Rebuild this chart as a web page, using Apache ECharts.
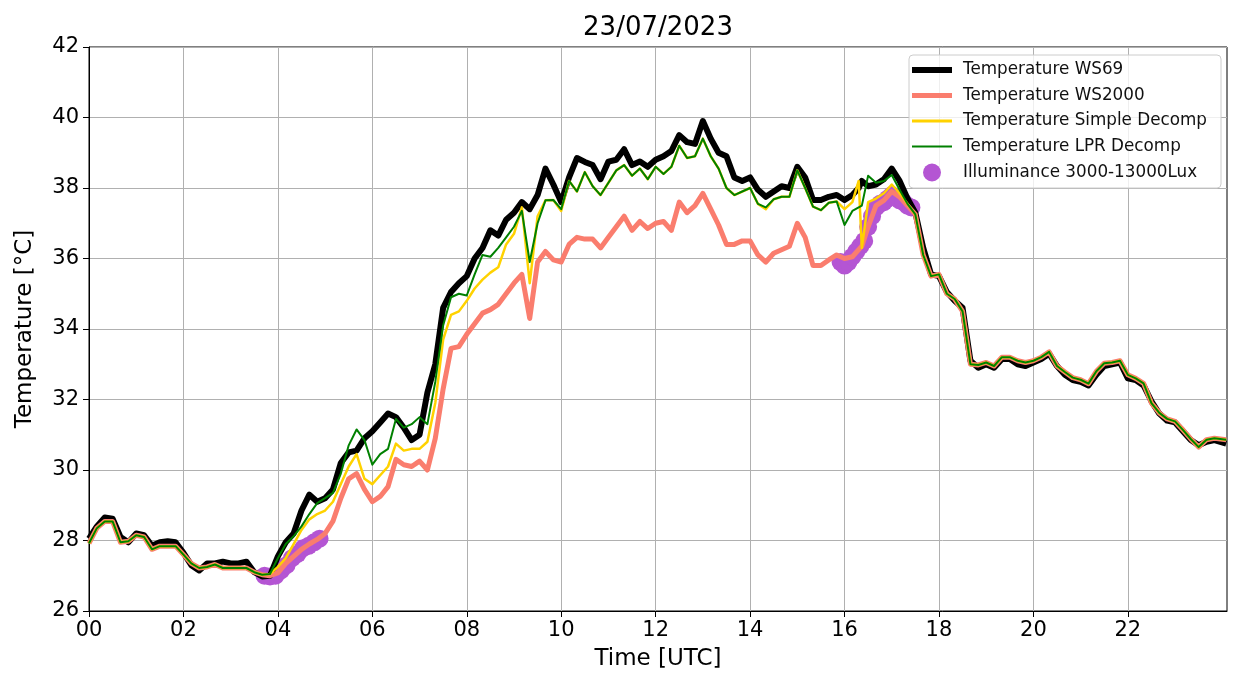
<!DOCTYPE html>
<html>
<head>
<meta charset="utf-8">
<title>23/07/2023</title>
<script src="https://cdn.jsdelivr.net/npm/echarts@6/dist/echarts.min.js"></script>
<style>
    html, body { margin: 0; padding: 0; background: #fff; }
    #chart { width: 1244px; height: 679px; }
</style>
</head>
<body>
<div id="chart"></div>
<script>
// time stamps in minutes after 00:00 UTC (10 min steps, two extra points around 16:20)
const timeMin = [
    0, 10, 20, 30, 40, 50,
    60, 70, 80, 90, 100, 110,
    120, 130, 140, 150, 160, 170,
    180, 190, 200, 210, 220, 230,
    240, 250, 260, 270, 280, 290,
    300, 310, 320, 330, 340, 350,
    360, 370, 380, 390, 400, 410,
    420, 430, 440, 450, 460, 470,
    480, 490, 500, 510, 520, 530,
    540, 550, 560, 570, 580, 590,
    600, 610, 620, 630, 640, 650,
    660, 670, 680, 690, 700, 710,
    720, 730, 740, 750, 760, 770,
    780, 790, 800, 810, 820, 830,
    840, 850, 860, 870, 880, 890,
    900, 910, 920, 930, 940, 950,
    960, 970, 978, 982, 990, 1000, 1010,
    1020, 1030, 1040, 1050, 1060, 1070,
    1080, 1090, 1100, 1110, 1120, 1130,
    1140, 1150, 1160, 1170, 1180, 1190,
    1200, 1210, 1220, 1230, 1240, 1250,
    1260, 1270, 1280, 1290, 1300, 1310,
    1320, 1330, 1340, 1350, 1360, 1370,
    1380, 1390, 1400, 1410, 1420, 1430,
    1445
];

const tempWS69 = [
    28.05, 28.4, 28.65, 28.62, 28.1, 27.95,
    28.2, 28.15, 27.85, 27.95, 27.98, 27.95,
    27.65, 27.3, 27.15, 27.35, 27.35, 27.4,
    27.35, 27.35, 27.4, 27.1, 26.98, 27.0,
    27.55, 27.95, 28.2, 28.85, 29.3, 29.1,
    29.2, 29.45, 30.2, 30.5, 30.55, 30.9,
    31.1, 31.35, 31.6, 31.5, 31.2, 30.85,
    31.0, 32.2, 33.0, 34.6, 35.05, 35.3,
    35.5, 36.0, 36.3, 36.8, 36.65, 37.1,
    37.3, 37.6, 37.4, 37.8, 38.55, 38.1,
    37.6, 38.3, 38.85, 38.74, 38.65, 38.25,
    38.75, 38.8, 39.1, 38.65, 38.75, 38.6,
    38.8, 38.9, 39.05, 39.5, 39.3, 39.25,
    39.9, 39.4, 39.0, 38.9, 38.3, 38.2,
    38.3, 37.95, 37.75, 37.9, 38.05, 38.0,
    38.6, 38.3, 37.66, 37.66, 37.75, 37.8,
    37.66, 37.8, 38.0, 38.2, 38.05, 38.1, 38.25,
    38.55, 38.2, 37.7, 37.3, 36.3, 35.55,
    35.5, 35.05, 34.8, 34.6, 33.1, 32.9,
    33.0, 32.9, 33.15, 33.15, 33.0, 32.95,
    33.05, 33.15, 33.3, 32.95, 32.7, 32.55,
    32.5, 32.4, 32.7, 32.95, 33.0, 33.05,
    32.6, 32.55, 32.4, 31.95, 31.6, 31.4,
    31.35, 31.1, 30.85, 30.7, 30.8, 30.85,
    30.75
];

const tempWS2000 = [
    27.92, 28.35, 28.54, 28.54, 27.95, 27.98,
    28.15, 28.1, 27.75, 27.84, 27.84, 27.84,
    27.6, 27.35, 27.22, 27.25, 27.32, 27.22,
    27.22, 27.22, 27.22, 27.1, 27.03, 27.0,
    27.08, 27.35, 27.55, 27.75, 27.9, 28.03,
    28.2, 28.55, 29.2, 29.75, 29.9, 29.45,
    29.1, 29.25, 29.53, 30.3, 30.15, 30.1,
    30.25, 30.0, 30.9, 32.3, 33.45, 33.5,
    33.85, 34.15, 34.45, 34.55, 34.7, 35.0,
    35.3, 35.55, 34.3, 35.9, 36.2, 35.96,
    35.9, 36.4, 36.6, 36.55, 36.55, 36.3,
    36.6, 36.9, 37.2, 36.8, 37.05, 36.85,
    37.0, 37.05, 36.8, 37.6, 37.3, 37.5,
    37.85, 37.4, 36.95, 36.4, 36.4, 36.5,
    36.5, 36.1, 35.9, 36.15, 36.25, 36.35,
    37.0, 36.6, 35.8, 35.8, 35.96, 36.1,
    36.0, 36.05, 36.25, 36.35, 36.9, 37.5, 37.65,
    37.9, 37.75, 37.5, 37.25, 36.1, 35.5,
    35.55, 35.0, 34.85, 34.5, 33.0, 32.98,
    33.05, 32.95, 33.2, 33.2, 33.1, 33.05,
    33.1, 33.2, 33.35, 32.95, 32.78, 32.62,
    32.56, 32.45, 32.8, 33.03, 33.05, 33.1,
    32.7, 32.6, 32.46, 31.9, 31.62, 31.45,
    31.38, 31.14, 30.88, 30.65, 30.86, 30.9,
    30.86
];

const tempSimple = [
    27.92, 28.35, 28.54, 28.54, 27.95, 27.98,
    28.15, 28.1, 27.75, 27.84, 27.84, 27.84,
    27.6, 27.35, 27.22, 27.25, 27.32, 27.22,
    27.22, 27.22, 27.22, 27.1, 27.03, 27.05,
    27.25, 27.5, 27.9, 28.3, 28.6, 28.75,
    28.85, 29.1, 29.6, 30.1, 30.45, 29.75,
    29.6, 29.85, 30.1, 30.75, 30.55, 30.6,
    30.6, 30.8, 31.9, 33.7, 34.4, 34.5,
    34.8, 35.15, 35.4, 35.6, 35.75, 36.4,
    36.7, 37.45, 35.3, 37.2, 37.65, 37.66,
    37.35, 38.2, 37.9, 38.45, 38.05, 37.8,
    38.15, 38.5, 38.65, 38.35, 38.55, 38.25,
    38.6, 38.4, 38.6, 39.2, 38.85, 38.9,
    39.4, 38.9, 38.55, 38.0, 37.8, 37.9,
    38.0, 37.55, 37.4, 37.68, 37.75, 37.75,
    38.5, 38.0, 37.47, 37.37, 37.58, 37.62,
    37.4, 37.6, 38.2, 36.3, 37.6, 37.7, 37.85,
    38.1, 37.85, 37.55, 37.25, 36.1, 35.5,
    35.55, 35.0, 34.85, 34.5, 33.0, 32.98,
    33.05, 32.95, 33.2, 33.2, 33.1, 33.05,
    33.1, 33.2, 33.35, 32.95, 32.78, 32.62,
    32.56, 32.45, 32.8, 33.03, 33.05, 33.1,
    32.7, 32.6, 32.46, 31.9, 31.62, 31.45,
    31.38, 31.14, 30.88, 30.65, 30.86, 30.9,
    30.86
];

const tempLPR = [
    27.92, 28.35, 28.54, 28.54, 27.95, 27.98,
    28.15, 28.1, 27.75, 27.84, 27.84, 27.84,
    27.6, 27.35, 27.22, 27.25, 27.32, 27.22,
    27.22, 27.22, 27.22, 27.1, 27.03, 27.05,
    27.5, 27.9, 28.12, 28.4, 28.75, 29.06,
    29.2, 29.35, 29.9, 30.7, 31.15, 30.85,
    30.15, 30.45, 30.6, 31.45, 31.2, 31.3,
    31.5, 31.3, 32.5, 34.1, 34.9, 35.0,
    34.95, 35.55, 36.1, 36.05, 36.3, 36.6,
    36.9, 37.35, 35.9, 37.0, 37.65, 37.66,
    37.4, 38.2, 37.9, 38.45, 38.05, 37.8,
    38.15, 38.5, 38.65, 38.35, 38.55, 38.25,
    38.6, 38.4, 38.6, 39.2, 38.85, 38.9,
    39.4, 38.9, 38.55, 38.0, 37.8, 37.9,
    38.0, 37.55, 37.45, 37.68, 37.75, 37.75,
    38.5, 38.0, 37.47, 37.37, 37.58, 37.62,
    36.95, 37.35, 37.45, 37.5, 38.35, 38.15, 38.2,
    38.37, 37.95, 37.55, 37.25, 36.1, 35.5,
    35.55, 35.0, 34.85, 34.5, 33.0, 32.98,
    33.05, 32.95, 33.2, 33.2, 33.1, 33.05,
    33.1, 33.2, 33.35, 32.95, 32.78, 32.62,
    32.56, 32.45, 32.8, 33.03, 33.05, 33.1,
    32.7, 32.6, 32.46, 31.9, 31.62, 31.45,
    31.38, 31.14, 30.88, 30.65, 30.86, 30.9,
    30.86
];

// minutes where illuminance was 3000-13000 lux, with the WS2000 temperature there
const illumMin = [
    223, 230, 237, 244, 251, 258, 265, 272, 279, 286, 293,
    955, 960, 965, 970, 975, 980, 985, 990, 995, 1000,
    1005, 1010, 1015, 1020, 1025, 1030, 1035, 1040, 1045
];
const illumTemp = [
    27.0, 26.98, 27.0, 27.15, 27.3, 27.5, 27.62, 27.78, 27.85, 27.95, 28.05,
    35.9, 35.8, 35.9, 36.05, 36.2, 36.35, 36.5, 36.9, 37.2, 37.45,
    37.55, 37.6, 37.7, 37.8, 37.75, 37.65, 37.6, 37.5, 37.45
];

const seriesNames = [
    'Temperature WS69',
    'Temperature WS2000',
    'Temperature Simple Decomp',
    'Temperature LPR Decomp',
    'Illuminance 3000-13000Lux'
];
// x ticks every two hours (minutes), y ticks in °C
const xTicks = [0, 120, 240, 360, 480, 600, 720, 840, 960, 1080, 1200, 1320];
const yTicks = [26, 28, 30, 32, 34, 36, 38, 40, 42];

const FONT = 'DejaVu Sans';
const colors = ['#000000', '#fa7d6e', '#ffd200', '#008000', '#b455d3'];
const lineWidths = [6, 5, 2.5, 2];

function toPairs(xs, ys) {
    return xs.map((x, i) => [x, ys[i]]);
}

function makeLine(idx, values) {
    return {
        name: seriesNames[idx],
        type: 'line',
        data: toPairs(timeMin, values),
        color: colors[idx],
        showSymbol: false,
        symbol: 'none',
        z: idx + 2,
        lineStyle: { width: lineWidths[idx], color: colors[idx], join: 'round' },
        emphasis: { disabled: true }
    };
}

// one legend per row so each handle gets its own thickness
const legendRows = [70, 95.5, 121, 146.5, 172.5];
const legendIconH = [6, 5, 3, 2, 18];
const legends = seriesNames.map((name, i) => ({
    data: [{ name: name, icon: i === 4 ? 'circle' : 'rect' }],
    left: i === 4 ? 923 : 912,
    top: legendRows[i] - 10,
    padding: 0,
    itemWidth: 40,
    itemHeight: legendIconH[i],
    selectedMode: false,
    z: 11,
    textStyle: { fontFamily: FONT, fontSize: 16.8, color: '#111', lineHeight: 20, padding: [0, 0, 0, 6] }
}));

const chart = echarts.init(document.getElementById('chart'));
chart.setOption({
    animation: false,
    textStyle: { fontFamily: FONT },
    grid: {
        left: 89, right: 17, top: 47, bottom: 68,
        show: true, borderColor: '#000', borderWidth: 1, backgroundColor: 'transparent'
    },
    graphic: [
        {
            type: 'text', x: 658, y: 28, z: 12,
            style: { text: '23/07/2023', fontFamily: FONT, fontSize: 26, fill: '#000', textAlign: 'center', textVerticalAlign: 'middle' }
        },
        {
            type: 'rect', z: 10,
            shape: { x: 909, y: 55, width: 312, height: 133, r: 4 },
            style: { fill: 'rgba(255,255,255,0.8)', stroke: '#cccccc', lineWidth: 1 }
        }
    ],
    legend: legends,
    xAxis: {
        type: 'value', min: 0, max: 1446,
        name: 'Time [UTC]', nameLocation: 'middle', nameGap: 37,
        nameTextStyle: { fontFamily: FONT, fontSize: 23, color: '#000' },
        axisLine: { lineStyle: { color: '#000', width: 1 } },
        axisTick: { length: 6, lineStyle: { color: '#000' }, customValues: xTicks },
        axisLabel: {
            fontFamily: FONT, fontSize: 21, color: '#000', margin: 9, customValues: xTicks,
            formatter: v => String(v / 60).padStart(2, '0')
        },
        splitLine: { show: true, lineStyle: { color: '#b0b0b0', width: 1 } }
    },
    yAxis: {
        type: 'value', min: yTicks[0], max: yTicks[yTicks.length - 1], interval: 2,
        name: 'Temperature [°C]', nameLocation: 'middle', nameGap: 52,
        nameTextStyle: { fontFamily: FONT, fontSize: 23, color: '#000' },
        axisLine: { show: true, lineStyle: { color: '#000', width: 1 } },
        axisTick: { show: true, length: 6, lineStyle: { color: '#000' } },
        axisLabel: { fontFamily: FONT, fontSize: 21, color: '#000', margin: 10 },
        splitLine: { show: true, lineStyle: { color: '#b0b0b0', width: 1 } }
    },
    series: [
        {
            name: seriesNames[4],
            type: 'scatter',
            data: toPairs(illumMin, illumTemp),
            symbolSize: 18,
            color: colors[4],
            itemStyle: { color: colors[4], opacity: 1 },
            z: 1,
            emphasis: { disabled: true }
        },
        makeLine(0, tempWS69),
        makeLine(1, tempWS2000),
        makeLine(2, tempSimple),
        makeLine(3, tempLPR)
    ]
});
</script>
</body>
</html>
